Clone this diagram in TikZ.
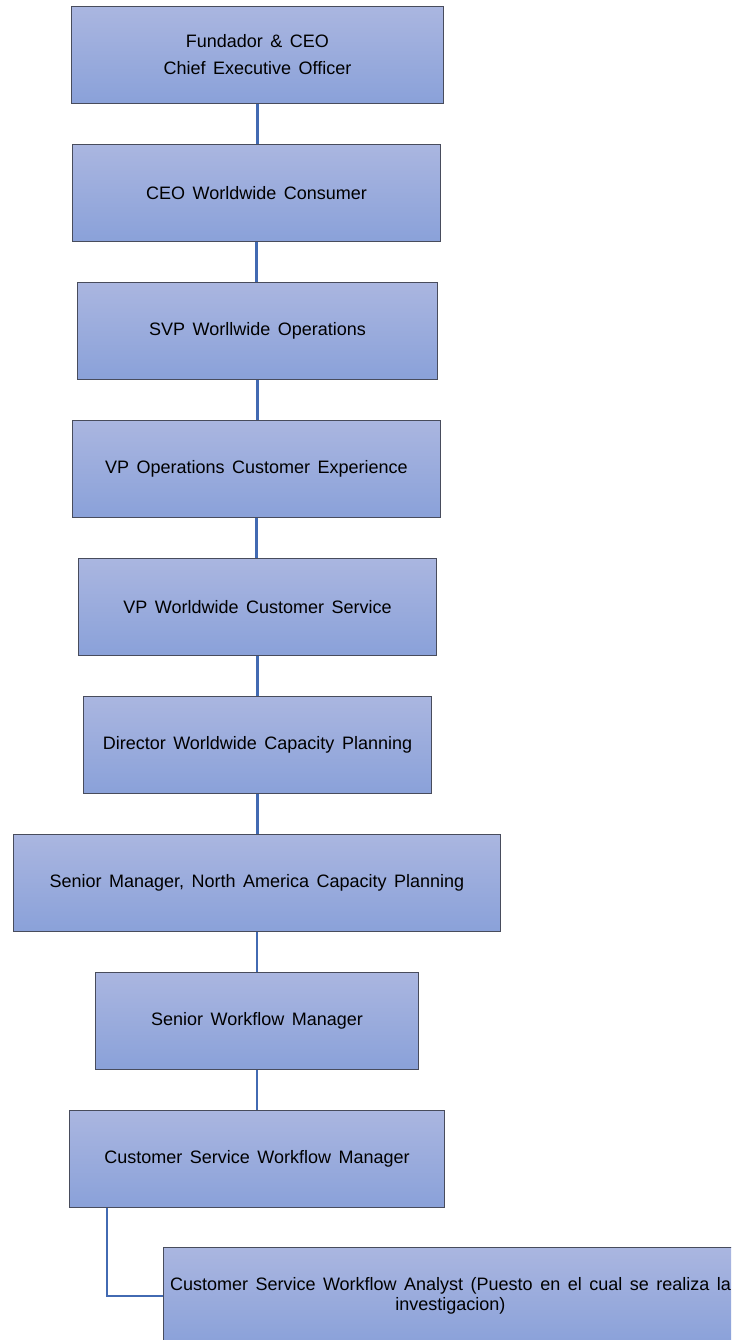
\documentclass[tikz,border=0pt]{standalone}
\usepackage{fontspec}
\setmainfont{Liberation Sans}[WordSpace=1.5]
\definecolor{fillTop}{RGB}{170,182,224}
\definecolor{fillBot}{RGB}{138,161,217}
\definecolor{boxline}{RGB}{72,76,92}
\definecolor{linkblue}{RGB}{66,106,178}
\begin{document}
\begin{tikzpicture}[x=1pt,y=-1pt,
  orgbox/.style={draw=boxline, line width=0.9pt, top color=fillTop, bottom color=fillBot,
    inner sep=0pt, align=center, anchor=north west, minimum height=97pt,
    font=\fontsize{18}{20}\selectfont, text=black},
  link/.style={draw=linkblue, line width=2.2pt}]
\useasboundingbox (0,0) rectangle (731,1340);
\clip (0,0) rectangle (731,1340);

% chain of positions, top to bottom
\node[orgbox, minimum width=372pt] (b1) at (71,6) {Fundador \& CEO\\[7pt]Chief Executive Officer};
\node[orgbox, minimum width=368pt] (b2) at (72,144) {CEO Worldwide Consumer};
\node[orgbox, minimum width=360pt] (b3) at (77,282) {SVP Worllwide Operations};
\node[orgbox, minimum width=368pt] (b4) at (72,420) {VP Operations Customer Experience};
\node[orgbox, minimum width=358pt] (b5) at (78,558) {VP Worldwide Customer Service};
\node[orgbox, minimum width=348pt] (b6) at (83,696) {Director Worldwide Capacity Planning};
\node[orgbox, minimum width=487pt] (b7) at (13,834) {Senior Manager, North America Capacity Planning};
\node[orgbox, minimum width=323pt] (b8) at (95,972) {Senior Workflow Manager};
\node[orgbox, minimum width=375pt] (b9) at (69,1110) {Customer Service Workflow Manager};
\node[orgbox, minimum width=574pt] (b10) at (163,1247) {Customer Service Workflow Analyst (Puesto en el cual se realiza la\\investigacion)};

% reporting lines
\foreach \a/\b in {b1/b2,b2/b3,b3/b4,b4/b5,b5/b6,b6/b7,b7/b8,b8/b9}
  \draw[link] (\a.south) -- (\a.south |- \b.north);
\coordinate (tap) at ([xshift=38pt]b9.south west);
\draw[link] (tap) |- (b10.west);
\end{tikzpicture}
\end{document}
